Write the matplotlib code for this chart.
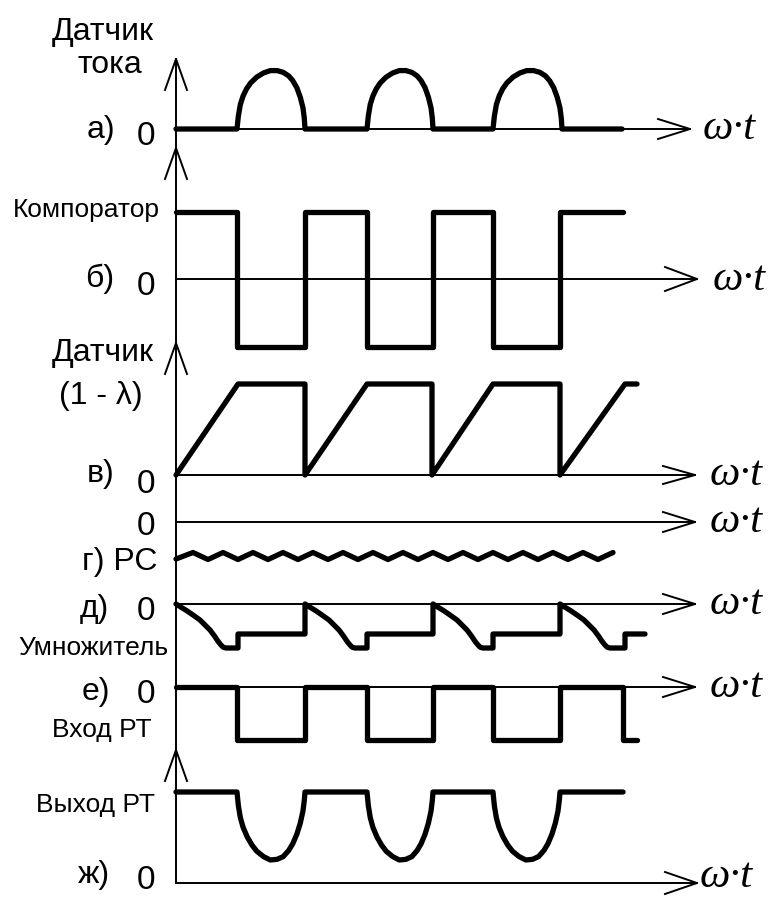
import numpy as np
import matplotlib
matplotlib.use("Agg")
import matplotlib.pyplot as plt

# ---------------- data (time measured from the vertical axis) ----------------
# switching instants of the comparator / regulator signals
switch_t = [0, 61, 129, 191, 257, 317, 384, 447]

# a) current sensor: half-wave pulses (start, end) and amplitude
pulse_start = [61, 191, 317]
pulse_end = [129, 257, 386]
pulse_amp = 59
pulse_end_t = 446
# normalised shape of one pulse
arc_u = [0.0, 0.02, 0.05, 0.09, 0.14, 0.20, 0.29, 0.39, 0.49, 0.59, 0.68,
         0.76, 0.82, 0.88, 0.93, 0.97, 0.99, 1.0]
arc_h = [0.0, 0.22, 0.42, 0.56, 0.68, 0.78, 0.88, 0.95, 0.99, 0.99, 0.96,
         0.90, 0.82, 0.70, 0.54, 0.36, 0.18, 0.0]

# б) comparator levels
comp_high = 67
comp_low = -68
comp_levels = [comp_high, comp_low, comp_high, comp_low, comp_high, comp_low, comp_high]

# в) (1 - lambda) sensor: ramps (start, top reached) and plateau end
ramp_start = [0, 129, 256, 384]
ramp_top = [62, 191, 317, 449]
plateau_end = [129, 256, 384, 461]
ramp_amp = 91

# г) RC output: ripple vertices
rc_t = [0, 17, 32, 47, 62, 77, 92, 107, 122, 137, 152, 167, 182, 197, 212,
        227, 242, 257, 272, 287, 302, 317, 332, 347, 362, 377, 392, 407, 422, 437]
rc_v = [-37, -30.5, -37.5, -30.5, -37.5, -30.5, -37.5, -30.5, -37.5, -30.5, -37.5,
        -30.5, -37.5, -30.5, -37.5, -30.5, -37.5, -30.5, -37.5, -30.5, -37.5,
        -30.5, -37.5, -30.5, -37.5, -30.5, -37.5, -30.5, -37.5, -30.5]

# д) multiplier: descending segment shape, bottom and step levels
mult_start = [0, 129, 257, 384]
mult_bottom_end = [62, 191, 317, 449]
mult_curve_dt = [0, 5, 10.7, 17, 24, 29, 34, 38.5, 42.3, 45, 47.3, 50]
mult_curve_v = [0, -3.2, -6.7, -11, -16, -21, -26, -32, -37.7, -41, -43.3, -44]
mult_bottom = -44
mult_step = -30
mult_end_t = 469

# е) regulator input
rin_high = 0
rin_low = -53
rin_levels = [rin_high, rin_low, rin_high, rin_low, rin_high, rin_low, rin_high, rin_low]
rin_end_t = 461

# ж) regulator output: dips between switching instants
rout_high = 91
rout_dip_start = [61, 191, 317]
rout_dip_end = [129, 257, 384]
rout_end_t = 447
dip_u = [0.0, 0.02, 0.05, 0.09, 0.15, 0.22, 0.29, 0.39, 0.49, 0.59, 0.68,
         0.76, 0.82, 0.88, 0.93, 0.97, 0.99, 1.0]
dip_h = [0.0, 0.20, 0.38, 0.52, 0.66, 0.78, 0.87, 0.95, 1.0, 0.99, 0.95,
         0.86, 0.76, 0.62, 0.46, 0.28, 0.12, 0.0]
rout_dip_depth = 68

# ---------------- layout ----------------
X0 = 176
base = {"a": 129, "b": 279, "v": 475, "g": 522, "d": 604, "e": 687, "zh": 883}
axis_end = {"a": 690, "b": 697, "v": 695, "g": 695, "d": 695, "e": 695, "zh": 697}
arrow_hw = {"a": 10, "b": 12, "v": 9, "g": 10, "d": 10, "e": 10, "zh": 11}
wt_x = {"a": 703, "b": 713, "v": 710, "g": 710, "d": 710, "e": 710, "zh": 700}
wt_dy = {"a": 10, "b": 11, "v": 10, "g": 10, "d": 10, "e": 10, "zh": 4}
v_arrows = [59, 148, 343, 750]

LW_SIG = 3.8
LW_AX = 1.4

fig = plt.figure(figsize=(7.68, 8.97), dpi=100)
ax = fig.add_axes([0, 0, 1, 1])
ax.set_xlim(0, 768)
ax.set_ylim(897, 0)
ax.axis("off")


def sig(ts, vs, key):
    ts = np.asarray(ts, float)
    vs = np.asarray(vs, float)
    ax.plot(X0 + ts, base[key] - vs, color="black", lw=LW_SIG,
            solid_capstyle="round", solid_joinstyle="round", zorder=3)


# axes
ax.plot([X0, X0], [v_arrows[0], base["zh"]], color="black", lw=LW_AX, zorder=2)
for y in v_arrows:
    ax.plot([X0 - 11, X0, X0 + 11], [y + 31, y, y + 31], color="black", lw=LW_AX, zorder=2)
for k in base:
    y = base[k]
    ax.plot([X0, axis_end[k]], [y, y], color="black", lw=LW_AX, zorder=2)
    ax.plot([axis_end[k] - 32, axis_end[k], axis_end[k] - 32],
            [y - arrow_hw[k], y, y + arrow_hw[k]], color="black", lw=LW_AX, zorder=2)
    ax.text(wt_x[k], y + wt_dy[k], "ω·t", family="Liberation Serif", style="italic",
            fontsize=31, ha="left", va="baseline")

# a) current sensor
ts, vs = [0], [0]
for s, e in zip(pulse_start, pulse_end):
    for u, h in zip(arc_u, arc_h):
        ts.append(s + u * (e - s))
        vs.append(h * pulse_amp)
ts.append(pulse_end_t)
vs.append(0)
sig(ts, vs, "a")

# б) comparator
ts, vs = [], []
for i, lv in enumerate(comp_levels):
    ts += [switch_t[i], switch_t[i + 1]]
    vs += [lv, lv]
sig(ts, vs, "b")

# в) ramps
ts, vs = [], []
for s, t, p in zip(ramp_start, ramp_top, plateau_end):
    ts += [s, t, p]
    vs += [0, ramp_amp, ramp_amp]
    if p != plateau_end[-1]:
        ts.append(p)
        vs.append(0)
sig(ts, vs, "v")

# г) RC
sig(rc_t, rc_v, "g")

# д) multiplier
ts, vs = [], []
for i, (s, be) in enumerate(zip(mult_start, mult_bottom_end)):
    ts += [s + d for d in mult_curve_dt]
    vs += list(mult_curve_v)
    ts += [be, be]
    vs += [mult_bottom, mult_step]
    nxt = mult_start[i + 1] if i + 1 < len(mult_start) else mult_end_t
    ts.append(nxt)
    vs.append(mult_step)
sig(ts, vs, "d")

# е) regulator input
ts, vs = [], []
for i, lv in enumerate(rin_levels):
    t_end = switch_t[i + 1] if i + 1 < len(switch_t) else rin_end_t
    ts += [switch_t[i], t_end]
    vs += [lv, lv]
sig(ts, vs, "e")

# ж) regulator output
ts, vs = [0], [rout_high]
for s, e in zip(rout_dip_start, rout_dip_end):
    for u, h in zip(dip_u, dip_h):
        ts.append(s + u * (e - s))
        vs.append(rout_high - h * rout_dip_depth)
ts.append(rout_end_t)
vs.append(rout_high)
sig(ts, vs, "zh")

# labels
SANS = "Liberation Sans"
big = 23
zero = 24
small = 19
labels = [
    ("Датчик", 103, 40, big, "center"),
    ("тока", 110, 73, big, "center"),
    ("а)", 87, 138, big, "left"),
    ("0", 137, 145, zero, "left"),
    ("Компоратор", 160, 217, small, "right"),
    ("б)", 85, 287, big, "left"),
    ("0", 137, 295, zero, "left"),
    ("Датчик", 103, 361, big, "center"),
    ("(1 - λ)", 101, 404, big, "center"),
    ("в)", 87, 482, big, "left"),
    ("0", 137, 493, zero, "left"),
    ("0", 137, 535, zero, "left"),
    ("г) РС", 82, 570, big, "left"),
    ("д)", 80, 617, big, "left"),
    ("0", 137, 620, zero, "left"),
    ("Умножитель", 168, 655, small, "right"),
    ("е)", 82, 700, big, "left"),
    ("0", 137, 703, zero, "left"),
    ("Вход РТ", 152, 737, small, "right"),
    ("Выход РТ", 155, 812, small, "right"),
    ("ж)", 78, 883, big, "left"),
    ("0", 137, 889, zero, "left"),
]
for txt, x, y, fs, ha in labels:
    ax.text(x, y, txt, family=SANS, fontsize=fs, ha=ha, va="baseline")

fig.savefig("out.png", dpi=100)
